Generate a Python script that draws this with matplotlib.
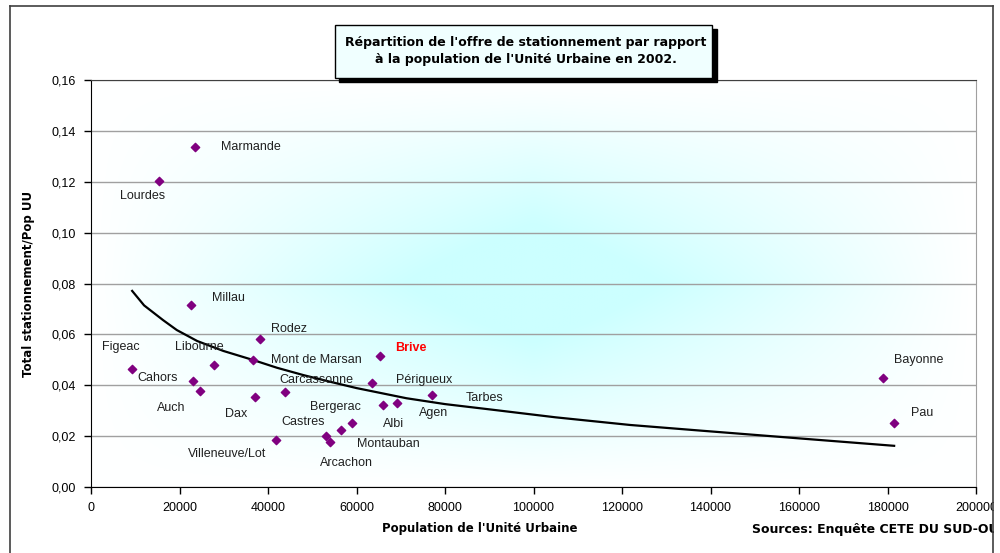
"""Offre de stationnement rapportée à la population de l'unité urbaine (2002)"""

import numpy as np
import matplotlib.pyplot as plt
from matplotlib.patches import Rectangle
from matplotlib.ticker import FuncFormatter, MultipleLocator

plt.rcParams['font.family'] = ['Liberation Sans', 'DejaVu Sans']

# Villes : population de l'UU et total stationnement / pop UU
villes = ['Marmande', 'Lourdes', 'Millau', 'Rodez', 'Figeac', 'Libourne',
          'Mont de Marsan', 'Cahors', 'Auch', 'Dax', 'Carcassonne',
          'Villeneuve/Lot', 'Castres', 'Arcachon', 'Montauban', 'Bergerac',
          'Brive', 'Périgueux', 'Albi', 'Agen', 'Tarbes', 'Bayonne', 'Pau']
population = [23500, 15400, 22600, 38200, 9300, 27800,
              36500, 23000, 24600, 37100, 43900,
              41700, 53000, 54000, 56400, 58900,
              65200, 63500, 66000, 69200, 77100, 179000, 181500]
ratio = [0.1336, 0.1203, 0.0715, 0.0583, 0.0465, 0.0481,
         0.0499, 0.0418, 0.0376, 0.0353, 0.0372,
         0.0184, 0.0200, 0.0176, 0.0224, 0.0253,
         0.0515, 0.0409, 0.0324, 0.0329, 0.0360, 0.0427, 0.0253]

# décalage des étiquettes (points écran)
lab_dx = [19, -28, 15, 8, -22, -28, 13, -40, -31, -22, -4,
          -63, -32, -7, 12, -30, 11, 17, 0, 16, 24, 8, 12]
lab_dy = [0, -11, 5, 7, 16, 13, 0, 2, -12, -12, 9,
          -10, 10, -15, -10, 11, 6, 2, -14, -7, -2, 13, 7]

# courbe de tendance
tend_x = [9300, 12000, 16300, 19400, 24000, 29900, 36700, 42000, 48000, 54000,
          60000, 71300, 80000, 90200, 105000, 121800, 137600, 160200, 181500]
tend_y = [0.0771, 0.0714, 0.0656, 0.0617, 0.0574, 0.0535, 0.0499, 0.0469, 0.0440, 0.0414,
          0.0389, 0.0349, 0.0326, 0.0305, 0.0274, 0.0244, 0.0222, 0.0191, 0.0162]

fig = plt.figure(figsize=(10, 5.53), dpi=100)
ax = fig.add_axes([0.091, 0.1193, 0.885, 0.736])

# fond dégradé depuis le centre
nx, ny = 300, 200
u = np.linspace(-1, 1, nx)
v = np.linspace(-1, 1, ny)
U, V = np.meshgrid(u, v)
f = (1 - np.abs(U)) * (1 - np.abs(V))
f = np.clip(f * 1.4, 0, 1)
centre = np.array([0.80, 1.0, 1.0])
img = np.ones((ny, nx, 3)) * (1 - f[..., None]) + centre * f[..., None]
ax.imshow(img, extent=[0, 200000, 0, 0.16], aspect='auto', zorder=0,
          interpolation='bilinear')

ax.set_xlim(0, 200000)
ax.set_ylim(0, 0.16)
ax.xaxis.set_major_locator(MultipleLocator(20000))
ax.yaxis.set_major_locator(MultipleLocator(0.02))
ax.yaxis.set_major_formatter(FuncFormatter(lambda y, p: f'{y:.2f}'.replace('.', ',')))
ax.xaxis.set_major_formatter(FuncFormatter(lambda x, p: f'{int(round(x))}'))
ax.grid(axis='y', color='#a0a0a0', linewidth=1.0, zorder=1)
ax.tick_params(labelsize=9, direction='out', length=5, width=1, color='black', pad=6)
ax.spines['left'].set_color('black')
ax.spines['bottom'].set_color('black')
ax.spines['top'].set_color('#404040')
ax.spines['right'].set_color('#a0a0a0')

ax.plot(tend_x, tend_y, color='black', linewidth=1.6, zorder=3)
ax.scatter(population, ratio, marker='D', s=18, color='#800080', zorder=4)

for nom, x, y, dx, dy in zip(villes, population, ratio, lab_dx, lab_dy):
    if nom == 'Brive':
        ax.annotate(nom, (x, y), xytext=(dx, dy), textcoords='offset points',
                    fontsize=9, color='red', fontweight='bold', va='center', zorder=5)
    else:
        ax.annotate(nom, (x, y), xytext=(dx, dy), textcoords='offset points',
                    fontsize=9, color='#202020', va='center', zorder=5)

titre_font = ['DejaVu Sans']
ax.set_ylabel('Total stationnement/Pop UU', fontsize=8.5, fontweight='bold',
              family=titre_font, labelpad=12)
ax.set_xlabel("Population de l'Unité Urbaine", fontsize=8.5, fontweight='bold',
              family=titre_font, labelpad=6)
ax.xaxis.set_label_coords(0.439, -0.085)

# cadre du titre avec ombre
fig.patches.append(Rectangle((0.339, 1 - 82 / 553), 0.378, 53 / 553, transform=fig.transFigure,
                             facecolor='black', edgecolor='black', zorder=5))
fig.patches.append(Rectangle((0.335, 1 - 78 / 553), 0.377, 53 / 553, transform=fig.transFigure,
                             facecolor='#f0ffff', edgecolor='black', linewidth=1, zorder=6))
fig.text(0.5255, 1 - 51 / 553,
         "Répartition de l'offre de stationnement par rapport\nà la population de l'Unité Urbaine en 2002.",
         ha='center', va='center', fontsize=9, fontweight='bold', family=titre_font,
         linespacing=1.45, zorder=7)

# source, coupée par le cadre comme sur l'original
fig.text(0.752, 1 - 529 / 553, 'Sources: Enquête CETE DU SUD-OUEST', fontsize=9,
         fontweight='bold', family=titre_font, va='center', ha='left', zorder=8)
fig.patches.append(Rectangle((0.9935, 0), 0.01, 1, transform=fig.transFigure,
                             facecolor='white', edgecolor='none', zorder=9))

# cadre extérieur
for xs, ys in [([0.0095, 0.0095], [0, 1 - 6 / 553]),
               ([0.0095, 0.993], [1 - 6 / 553, 1 - 6 / 553]),
               ([0.993, 0.993], [0, 1 - 6 / 553])]:
    fig.add_artist(plt.Line2D(xs, ys, transform=fig.transFigure, color='#404040',
                              linewidth=1.2, zorder=10))

fig.savefig('out.png', dpi=100)
